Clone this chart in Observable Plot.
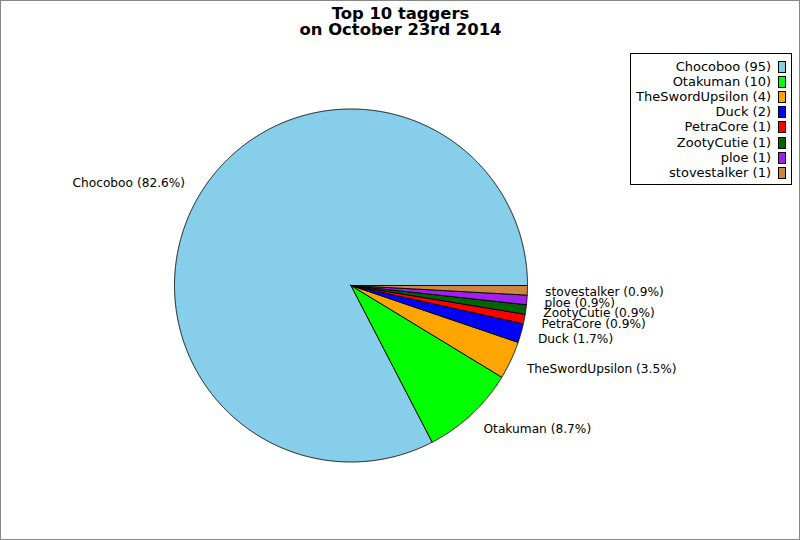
<!DOCTYPE html>
<html>
<head>
<meta charset="utf-8">
<script src="https://cdn.jsdelivr.net/npm/d3@7"></script>
<script src="https://cdn.jsdelivr.net/npm/@observablehq/plot@0.6"></script>
<style>
  html, body { margin: 0; padding: 0; background: #fff; }
  #wrap { position: relative; width: 800px; height: 540px; overflow: hidden; font-family: "DejaVu Sans", sans-serif; }
  #frame { position: absolute; left: 0; top: 0; width: 800px; height: 540px; box-sizing: border-box; border: 1px solid #888; pointer-events: none; }
  #legend { position: absolute; left: 630px; top: 53px; width: 162px; height: 132px; box-sizing: border-box; border: 1px solid #000; background: #fff; }
  .row { position: absolute; right: 0; height: 15px; font-size: 13px; line-height: 15px; white-space: nowrap; }
  .row span.t { position: absolute; right: 20px; top: 0; }
  .row span.s { position: absolute; right: 5px; top: 2px; width: 8px; height: 12px; box-sizing: border-box; border: 1px solid #000; }
</style>
</head>
<body>
<div id="wrap">
  <div id="chart"></div>
  <div id="legend"></div>
  <div id="frame"></div>
</div>
<script>
const names = ["Chocoboo", "Otakuman", "TheSwordUpsilon", "Duck", "PetraCore", "ZootyCutie", "ploe", "stovestalker"];
const counts = [95, 10, 4, 2, 1, 1, 1, 1];
const colors = ["#87CEEB", "#00FF00", "#FFA500", "#0000FF", "#FF0000", "#006400", "#A020F0", "#CD853F"];
const titleLines = ["Top 10 taggers", "on October 23rd 2014"];

const total = d3.sum(counts);
const cx = 350.5, cy = 285, R = 176.5;
const labelDist = 1.1;

// build slices (counter-clockwise from 3 o'clock)
const points = [];
const labels = [];
let acc = 0;
names.forEach((name, i) => {
  const a0 = acc / total * 2 * Math.PI;
  acc += counts[i];
  const a1 = acc / total * 2 * Math.PI;
  const n = Math.max(2, Math.ceil((a1 - a0) / (Math.PI / 720)));
  points.push({name, color: colors[i], x: 0, y: 0});
  for (let k = 0; k <= n; k++) {
    const a = a0 + (a1 - a0) * k / n;
    points.push({name, color: colors[i], x: Math.cos(a), y: Math.sin(a)});
  }
  points.push({name, color: colors[i], x: 0, y: 0});
  const am = (a0 + a1) / 2;
  labels.push({
    text: `${name} (${(counts[i] / total * 100).toFixed(1)}%)`,
    x: labelDist * Math.cos(am),
    y: labelDist * Math.sin(am)
  });
});

const plot = Plot.plot({
  width: 800,
  height: 540,
  margin: 0,
  x: {domain: [-1, 1], range: [cx - R, cx + R], axis: null},
  y: {domain: [-1, 1], range: [cy + R, cy - R], axis: null},
  color: {type: "identity"},
  style: {fontFamily: "DejaVu Sans, sans-serif", fontSize: "12px", background: "#fff", overflow: "visible"},
  marks: [
    Plot.line(points, {x: "x", y: "y", z: "name", fill: "color", stroke: "#000", strokeWidth: 0.9, strokeLinejoin: "round"}),
    Plot.text(labels.filter(d => d.x >= 0), {x: "x", y: "y", dy: 1.5, text: "text", textAnchor: "start", lineAnchor: "middle", fill: "#000", fontSize: 12.2}),
    Plot.text(labels.filter(d => d.x < 0), {x: "x", y: "y", dy: -1.5, text: "text", textAnchor: "end", lineAnchor: "middle", fill: "#000", fontSize: 12.2}),
    Plot.text([titleLines.join("\n")], {frameAnchor: "top", dy: 6, lineAnchor: "top", text: d => d, fontSize: 16.4, fontWeight: "bold", lineHeight: 1.03, fill: "#000"})
  ]
});
document.getElementById("chart").appendChild(plot);

const legend = document.getElementById("legend");
names.forEach((name, i) => {
  const row = document.createElement("div");
  row.className = "row";
  row.style.top = (5 + i * 15.1) + "px";
  row.style.left = "0";
  const t = document.createElement("span");
  t.className = "t";
  t.textContent = `${name} (${counts[i]})`;
  const s = document.createElement("span");
  s.className = "s";
  s.style.background = colors[i];
  row.appendChild(t);
  row.appendChild(s);
  legend.appendChild(row);
});
</script>
</body>
</html>
